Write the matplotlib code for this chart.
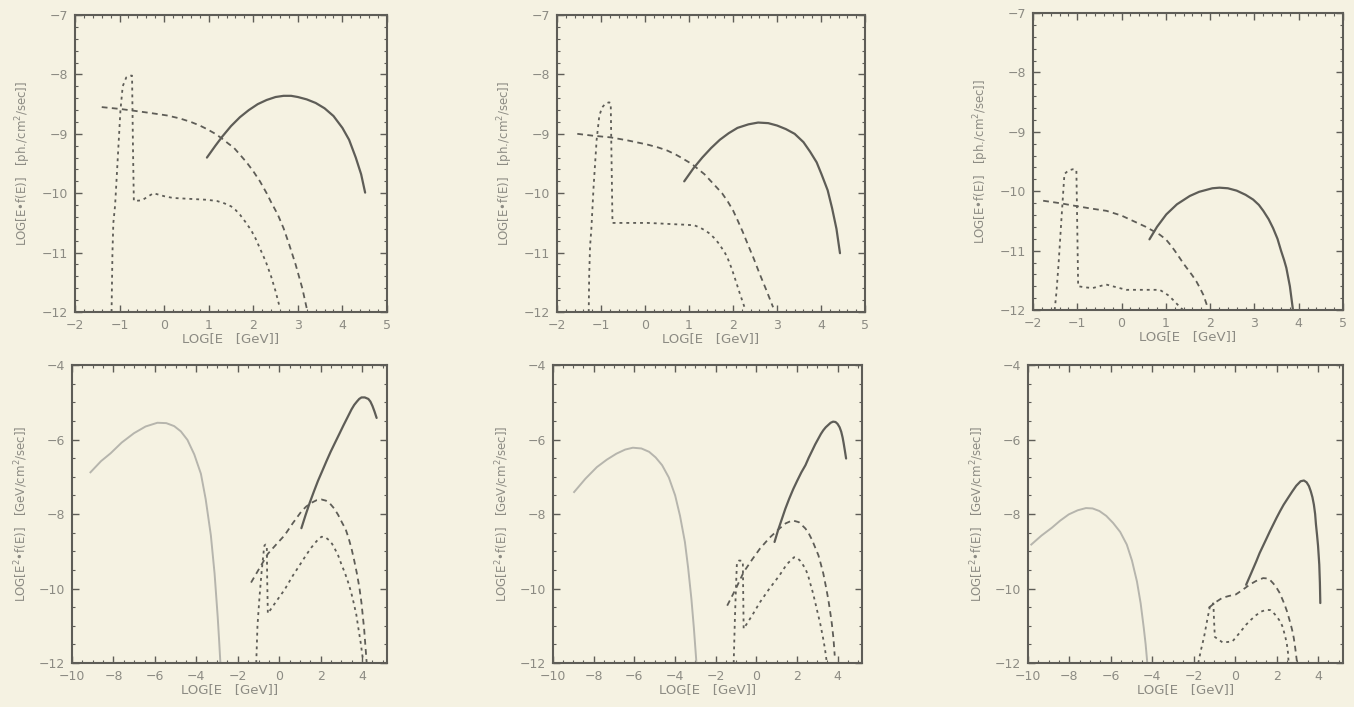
import numpy as np
import matplotlib
matplotlib.use("Agg")
import matplotlib.pyplot as plt
from matplotlib.ticker import MultipleLocator

# ─── Data ───────────────────────────────────────────────────────────────────────

# top row: LOG[E*f(E)] vs LOG[E]
p1_solid_x = [0.96, 1.15, 1.3, 1.5, 1.7, 1.9, 2.1, 2.3, 2.5, 2.68, 2.85, 3.0, 3.2, 3.4, 3.6, 3.8, 4.0, 4.15, 4.3, 4.42, 4.51]
p1_solid_y = [-9.40, -9.20, -9.05, -8.87, -8.72, -8.60, -8.50, -8.43, -8.38, -8.36, -8.36, -8.38, -8.42, -8.48, -8.57, -8.70, -8.90, -9.10, -9.40, -9.68, -9.99]
p1_dash_x = [-1.4, -1.0, -0.69, -0.3, 0.06, 0.35, 0.6, 0.8, 0.96, 1.15, 1.3, 1.45, 1.56, 1.7, 1.85, 2.0, 2.15, 2.3, 2.4, 2.55, 2.68, 2.8, 2.95, 3.1, 3.2]
p1_dash_y = [-8.55, -8.58, -8.61, -8.65, -8.69, -8.74, -8.80, -8.86, -8.92, -9.00, -9.08, -9.17, -9.23, -9.35, -9.48, -9.63, -9.80, -10.00, -10.15, -10.36, -10.59, -10.85, -11.20, -11.60, -11.94]
p1_dot_x = [-1.18, -1.16, -1.14, -1.10, -1.04, -0.98, -0.93, -0.85, -0.78, -0.72, -0.70, -0.68, -0.50, -0.35, -0.24, 0.0, 0.2, 0.45, 0.7, 0.95, 1.18, 1.35, 1.5, 1.6, 1.7, 1.82, 1.95, 2.05, 2.15, 2.28, 2.4, 2.5, 2.6]
p1_dot_y = [-12.0, -11.0, -10.5, -10.2, -9.4, -8.6, -8.2, -8.05, -8.02, -8.02, -9.2, -10.13, -10.12, -10.05, -10.0, -10.05, -10.08, -10.09, -10.10, -10.11, -10.13, -10.17, -10.22, -10.28, -10.36, -10.48, -10.62, -10.76, -10.93, -11.15, -11.40, -11.65, -11.94]

p2_solid_x = [0.89, 1.1, 1.3, 1.5, 1.7, 1.9, 2.1, 2.35, 2.57, 2.8, 3.0, 3.2, 3.4, 3.6, 3.75, 3.9, 4.01, 4.15, 4.25, 4.35, 4.43]
p2_solid_y = [-9.80, -9.58, -9.40, -9.24, -9.10, -8.99, -8.90, -8.84, -8.81, -8.82, -8.86, -8.92, -9.00, -9.14, -9.30, -9.48, -9.68, -9.95, -10.25, -10.60, -11.01]
p2_dash_x = [-1.54, -1.2, -0.78, -0.4, 0.05, 0.3, 0.5, 0.7, 0.82, 1.0, 1.1, 1.25, 1.35, 1.5, 1.6, 1.75, 1.88, 2.0, 2.1, 2.22, 2.34, 2.47, 2.6, 2.75, 2.91]
p2_dash_y = [-9.00, -9.03, -9.06, -9.11, -9.18, -9.23, -9.28, -9.35, -9.40, -9.48, -9.53, -9.62, -9.68, -9.80, -9.88, -10.00, -10.14, -10.29, -10.45, -10.65, -10.87, -11.10, -11.35, -11.62, -11.92]
p2_dot_x = [-1.28, -1.27, -1.25, -1.22, -1.17, -1.10, -1.04, -0.98, -0.90, -0.82, -0.78, -0.76, -0.74, -0.5, -0.2, 0.05, 0.35, 0.6, 0.9, 1.12, 1.25, 1.35, 1.47, 1.58, 1.68, 1.75, 1.82, 1.88, 1.97, 2.05, 2.15, 2.26]
p2_dot_y = [-12.0, -11.4, -10.9, -10.6, -9.9, -9.1, -8.7, -8.56, -8.49, -8.47, -8.48, -9.5, -10.5, -10.5, -10.5, -10.5, -10.51, -10.52, -10.53, -10.54, -10.58, -10.62, -10.68, -10.76, -10.85, -10.93, -11.01, -11.1, -11.27, -11.45, -11.68, -11.92]

p3_solid_x = [0.63, 0.8, 1.01, 1.25, 1.54, 1.75, 1.9, 2.05, 2.21, 2.4, 2.6, 2.8, 2.97, 3.1, 3.2, 3.32, 3.42, 3.52, 3.6, 3.67, 3.72, 3.8, 3.87]
p3_solid_y = [-10.81, -10.60, -10.39, -10.22, -10.08, -10.01, -9.98, -9.95, -9.94, -9.95, -9.99, -10.06, -10.14, -10.23, -10.33, -10.47, -10.62, -10.80, -11.00, -11.16, -11.29, -11.60, -12.0]
p3_dash_x = [-1.77, -1.4, -1.02, -0.7, -0.34, 0.0, 0.26, 0.55, 0.86, 1.0, 1.1, 1.2, 1.31, 1.4, 1.5, 1.6, 1.69, 1.77, 1.85, 1.95]
p3_dash_y = [-10.16, -10.20, -10.25, -10.29, -10.33, -10.41, -10.50, -10.60, -10.73, -10.81, -10.90, -11.00, -11.12, -11.22, -11.32, -11.42, -11.52, -11.63, -11.75, -11.97]
p3_dot_x = [-1.51, -1.47, -1.42, -1.36, -1.29, -1.20, -1.10, -1.02, -1.00, -0.98, -0.80, -0.65, -0.5, -0.35, -0.1, 0.11, 0.35, 0.6, 0.86, 0.95, 1.05, 1.15, 1.24, 1.32, 1.39]
p3_dot_y = [-12.0, -11.7, -11.2, -10.5, -9.71, -9.65, -9.63, -9.64, -10.6, -11.60, -11.62, -11.63, -11.60, -11.57, -11.62, -11.66, -11.66, -11.66, -11.66, -11.70, -11.75, -11.82, -11.89, -11.95, -12.0]

# bottom row: LOG[E^2*f(E)] vs LOG[E]
p4_sync_x = [-9.11, -8.6, -8.14, -7.6, -7.01, -6.45, -5.88, -5.45, -5.07, -4.75, -4.43, -4.1, -3.78, -3.55, -3.30, -3.12, -2.97, -2.90, -2.84]
p4_sync_y = [-6.88, -6.58, -6.37, -6.08, -5.83, -5.65, -5.55, -5.56, -5.64, -5.78, -6.01, -6.40, -6.92, -7.60, -8.57, -9.60, -10.76, -11.40, -12.0]
p4_solid_x = [1.07, 1.27, 1.47, 1.67, 1.87, 2.08, 2.28, 2.48, 2.68, 2.9, 3.1, 3.3, 3.49, 3.62, 3.75, 3.86, 3.97, 4.13, 4.30, 4.40, 4.50, 4.60, 4.70]
p4_solid_y = [-8.38, -8.03, -7.70, -7.40, -7.11, -6.84, -6.58, -6.33, -6.10, -5.85, -5.62, -5.40, -5.19, -5.07, -4.98, -4.91, -4.87, -4.87, -4.91, -4.98, -5.10, -5.25, -5.42]
p4_dash_x = [-1.36, -0.95, -0.55, -0.15, 0.26, 0.65, 1.07, 1.3, 1.55, 1.8, 2.04, 2.25, 2.45, 2.65, 2.84, 3.05, 3.2, 3.35, 3.49, 3.62, 3.75, 3.87, 3.97, 4.10, 4.22]
p4_dash_y = [-9.84, -9.45, -9.07, -8.82, -8.57, -8.25, -7.93, -7.80, -7.70, -7.63, -7.61, -7.64, -7.72, -7.85, -8.02, -8.25, -8.40, -8.65, -8.93, -9.25, -9.60, -9.98, -10.39, -11.10, -11.99]
p4_dot_x = [-1.11, -1.08, -1.05, -1.0, -0.95, -0.85, -0.75, -0.71, -0.65, -0.60, -0.58, -0.55, -0.15, 0.26, 0.65, 1.07, 1.3, 1.55, 1.8, 2.04, 2.22, 2.40, 2.55, 2.68, 2.85, 3.0, 3.17, 3.33, 3.47, 3.60, 3.72, 3.81, 3.93, 4.05]
p4_dot_y = [-12.0, -11.5, -11.0, -10.6, -10.21, -9.55, -9.0, -8.84, -8.82, -8.84, -9.8, -10.67, -10.35, -10.03, -9.66, -9.30, -9.10, -8.90, -8.73, -8.61, -8.62, -8.70, -8.80, -8.93, -9.12, -9.35, -9.58, -9.84, -10.10, -10.40, -10.70, -11.03, -11.45, -11.95]

p5_sync_x = [-8.96, -8.4, -7.84, -7.35, -6.88, -6.45, -6.07, -5.65, -5.27, -4.95, -4.63, -4.3, -3.99, -3.75, -3.51, -3.35, -3.19, -3.07, -2.95]
p5_sync_y = [-7.41, -7.05, -6.74, -6.54, -6.38, -6.27, -6.22, -6.24, -6.33, -6.48, -6.69, -7.02, -7.50, -8.05, -8.75, -9.45, -10.28, -11.05, -11.94]
p5_solid_x = [0.90, 1.07, 1.25, 1.43, 1.62, 1.82, 2.02, 2.22, 2.42, 2.58, 2.75, 2.9, 3.06, 3.18, 3.30, 3.42, 3.54, 3.66, 3.78, 3.90, 4.00, 4.10, 4.18, 4.25, 4.30, 4.36, 4.42]
p5_solid_y = [-8.75, -8.44, -8.15, -7.86, -7.59, -7.33, -7.10, -6.88, -6.69, -6.49, -6.30, -6.13, -5.97, -5.85, -5.75, -5.67, -5.61, -5.55, -5.52, -5.53, -5.58, -5.67, -5.79, -5.95, -6.10, -6.30, -6.51]
p5_dash_x = [-1.43, -1.0, -0.62, -0.2, 0.18, 0.65, 1.14, 1.45, 1.78, 2.10, 2.42, 2.6, 2.75, 2.9, 3.06, 3.18, 3.30, 3.42, 3.54, 3.63, 3.72, 3.80, 3.86]
p5_dash_y = [-10.46, -10.0, -9.56, -9.22, -8.93, -8.64, -8.39, -8.25, -8.17, -8.22, -8.39, -8.54, -8.70, -8.90, -9.11, -9.35, -9.60, -9.93, -10.28, -10.60, -10.95, -11.35, -11.80]
p5_dot_x = [-1.11, -1.08, -1.05, -1.0, -0.95, -0.85, -0.79, -0.70, -0.66, -0.64, -0.62, -0.2, 0.18, 0.65, 1.14, 1.50, 1.86, 2.0, 2.15, 2.28, 2.42, 2.55, 2.65, 2.78, 2.90, 3.02, 3.15, 3.27, 3.38, 3.46]
p5_dot_y = [-12.0, -11.4, -10.8, -10.0, -9.29, -9.25, -9.25, -9.26, -9.27, -10.2, -11.08, -10.72, -10.37, -10.00, -9.65, -9.35, -9.16, -9.17, -9.25, -9.35, -9.47, -9.65, -9.85, -10.10, -10.37, -10.65, -10.95, -11.28, -11.62, -11.94]

p6_sync_x = [-9.84, -9.35, -8.85, -8.45, -8.03, -7.60, -7.20, -6.88, -6.55, -6.22, -5.89, -5.55, -5.23, -4.98, -4.74, -4.56, -4.41, -4.32, -4.24]
p6_sync_y = [-8.82, -8.58, -8.37, -8.18, -8.01, -7.90, -7.84, -7.85, -7.92, -8.05, -8.24, -8.48, -8.82, -9.25, -9.81, -10.40, -11.06, -11.50, -12.0]
p6_solid_x = [0.53, 0.78, 1.02, 1.18, 1.35, 1.52, 1.68, 1.84, 2.00, 2.17, 2.34, 2.55, 2.75, 2.95, 3.16, 3.32, 3.45, 3.56, 3.65, 3.73, 3.80, 3.86, 3.90, 3.95, 4.00, 4.03, 4.06, 4.09, 4.11]
p6_solid_y = [-9.90, -9.58, -9.27, -9.05, -8.85, -8.65, -8.46, -8.28, -8.10, -7.92, -7.75, -7.57, -7.40, -7.24, -7.12, -7.10, -7.15, -7.25, -7.39, -7.55, -7.75, -8.00, -8.28, -8.55, -8.85, -9.10, -9.36, -9.85, -10.39]
p6_dash_x = [-1.28, -0.95, -0.62, -0.3, 0.03, 0.35, 0.69, 1.0, 1.35, 1.55, 1.70, 1.85, 2.01, 2.15, 2.25, 2.38, 2.50, 2.60, 2.70, 2.77, 2.83, 2.90, 2.99]
p6_dash_y = [-10.52, -10.37, -10.25, -10.20, -10.16, -10.04, -9.90, -9.80, -9.72, -9.73, -9.78, -9.87, -9.99, -10.12, -10.25, -10.42, -10.61, -10.80, -11.00, -11.16, -11.33, -11.60, -12.0]
p6_dot_x = [-1.78, -1.65, -1.50, -1.35, -1.20, -1.12, -1.05, -1.02, -0.98, -0.60, -0.13, 0.2, 0.53, 0.78, 1.0, 1.25, 1.51, 1.70, 1.85, 2.00, 2.17, 2.27, 2.35, 2.43, 2.50, 2.55, 2.58]
p6_dot_y = [-12.0, -11.65, -11.30, -10.85, -10.43, -10.41, -10.40, -10.85, -11.30, -11.45, -11.42, -11.20, -10.97, -10.83, -10.72, -10.62, -10.57, -10.58, -10.65, -10.75, -10.88, -11.00, -11.15, -11.32, -11.51, -11.72, -12.0]

TOP_YLABEL = "LOG[E\u2022f(E)]   [ph./cm$^2$/sec]]"
BOT_YLABEL = "LOG[E$^2$\u2022f(E)]   [GeV/cm$^2$/sec]]"
XLABEL = "LOG[E   [GeV]]"

# ─── Style ──────────────────────────────────────────────────────────────────────

PAPER = "#f5f2e2"
INK = "#5e5d57"
TEXT = "#8c8b83"
SYNC = "#b6b5ad"

DASH = (0, (3.2, 2.4))
DOT = (0, (1.6, 2.2))


def style_axes(ax, xlim, ylim, xmajor, xminor, ymajor, yminor, ylabel):
    ax.set_facecolor(PAPER)
    ax.set_xlim(*xlim)
    ax.set_ylim(*ylim)
    ax.xaxis.set_major_locator(MultipleLocator(xmajor))
    ax.xaxis.set_minor_locator(MultipleLocator(xminor))
    ax.yaxis.set_major_locator(MultipleLocator(ymajor))
    ax.yaxis.set_minor_locator(MultipleLocator(yminor))
    ax.tick_params(which="both", direction="in", top=True, right=True,
                   color=INK, labelcolor=TEXT, labelsize=9, pad=5)
    ax.tick_params(which="major", length=5, width=1.0)
    ax.tick_params(which="minor", length=2.5, width=0.8)
    for sp in ax.spines.values():
        sp.set_color(INK)
        sp.set_linewidth(1.5)
    ax.set_xlabel(XLABEL, color=TEXT, fontsize=9.5, labelpad=0)
    ax.set_ylabel(ylabel, color=TEXT, fontsize=8.5, labelpad=6)


fig = plt.figure(figsize=(13.54, 7.07), dpi=100, facecolor=PAPER)

top_boxes = [
    [0.0554, 0.5587, 0.2304, 0.4200],
    [0.4114, 0.5587, 0.2275, 0.4200],
    [0.7629, 0.5615, 0.2290, 0.4200],
]
bot_boxes = [
    [0.0532, 0.0622, 0.2326, 0.4215],
    [0.4084, 0.0622, 0.2282, 0.4215],
    [0.7592, 0.0622, 0.2326, 0.4215],
]

top_series = [
    (p1_solid_x, p1_solid_y, p1_dash_x, p1_dash_y, p1_dot_x, p1_dot_y),
    (p2_solid_x, p2_solid_y, p2_dash_x, p2_dash_y, p2_dot_x, p2_dot_y),
    (p3_solid_x, p3_solid_y, p3_dash_x, p3_dash_y, p3_dot_x, p3_dot_y),
]
bot_series = [
    (p4_sync_x, p4_sync_y, p4_solid_x, p4_solid_y, p4_dash_x, p4_dash_y, p4_dot_x, p4_dot_y),
    (p5_sync_x, p5_sync_y, p5_solid_x, p5_solid_y, p5_dash_x, p5_dash_y, p5_dot_x, p5_dot_y),
    (p6_sync_x, p6_sync_y, p6_solid_x, p6_solid_y, p6_dash_x, p6_dash_y, p6_dot_x, p6_dot_y),
]

for box, (sx, sy, dx, dy, ox, oy) in zip(top_boxes, top_series):
    ax = fig.add_axes(box)
    style_axes(ax, (-2, 5), (-12, -7), 1, 0.2, 1, 0.2, TOP_YLABEL)
    ax.plot(sx, sy, color=INK, lw=1.6, solid_capstyle="round")
    ax.plot(dx, dy, color=INK, lw=1.3, linestyle=DASH)
    ax.plot(ox, oy, color=INK, lw=1.3, linestyle=DOT)

for box, (yx, yy, sx, sy, dx, dy, ox, oy) in zip(bot_boxes, bot_series):
    ax = fig.add_axes(box)
    style_axes(ax, (-10, 5.2), (-12, -4), 2, 0.5, 2, 0.5, BOT_YLABEL)
    ax.plot(yx, yy, color=SYNC, lw=1.4)
    ax.plot(sx, sy, color=INK, lw=1.6, solid_capstyle="round")
    ax.plot(dx, dy, color=INK, lw=1.3, linestyle=DASH)
    ax.plot(ox, oy, color=INK, lw=1.3, linestyle=DOT)

fig.savefig("out.png", dpi=100, facecolor=PAPER)
